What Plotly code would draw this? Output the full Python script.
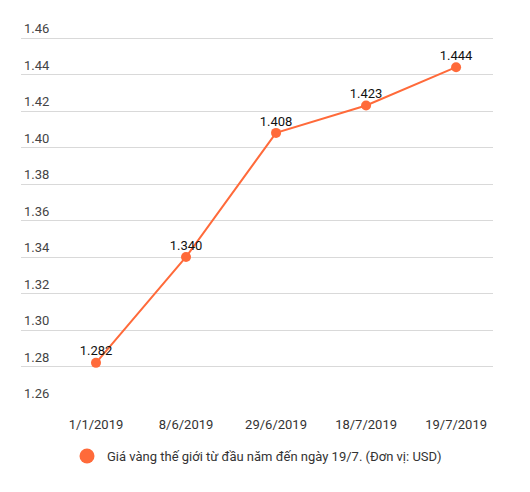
import plotly.graph_objects as go

# Giá vàng thế giới (nghìn USD/ounce)
dates = ["1/1/2019", "8/6/2019", "29/6/2019", "18/7/2019", "19/7/2019"]
prices = [1.282, 1.340, 1.408, 1.423, 1.444]
y_ticks = [1.26, 1.28, 1.30, 1.32, 1.34, 1.36, 1.38, 1.40, 1.42, 1.44, 1.46]
series_name = "Giá vàng thế giới từ đầu năm đến ngày 19/7. (Đơn vị: USD)"

orange = "#ff6a3a"
xs = list(range(len(dates)))

fig = go.Figure()
fig.add_trace(
    go.Scatter(
        x=xs,
        y=prices,
        mode="lines+markers",
        line=dict(color=orange, width=2),
        marker=dict(color=orange, size=10),
        showlegend=False,
        cliponaxis=False,
    )
)
# nhãn giá trị, chấm ẩn nhỏ hơn để nhãn sát chấm hơn
fig.add_trace(
    go.Scatter(
        x=xs,
        y=prices,
        mode="markers+text",
        marker=dict(size=5, opacity=0),
        text=[f"{v:.3f}" for v in prices],
        textposition="top center",
        textfont=dict(family="Roboto", size=13, color="#111"),
        showlegend=False,
        cliponaxis=False,
        hoverinfo="skip",
    )
)
# chỉ để vẽ chấm to hơn trong chú thích
fig.add_trace(
    go.Scatter(
        x=[None], y=[None], mode="markers",
        marker=dict(color=orange, size=15),
        name=series_name,
    )
)

plot_h = 392  # 365px cho 1.26-1.46, thêm chỗ trên cho nhãn 1.46

# trang html có lề body 8px, nên trừ bớt ở đây
fig.update_layout(
    width=522,
    height=484,
    margin=dict(l=13, r=37, t=30 - (plot_h - 365), b=89),
    paper_bgcolor="white",
    plot_bgcolor="white",
    font=dict(family="Roboto", size=13, color="#444"),
    xaxis=dict(
        range=[-0.833, 4.41],
        tickvals=xs,
        ticktext=dates,
        showgrid=False,
        zeroline=False,
        showline=False,
        automargin=False,
        tickfont=dict(color="#333", size=13),
        ticks="",
        ticklabelstandoff=12,
    ),
    yaxis=dict(
        range=[1.26, 1.26 + plot_h / 1825],
        tickvals=y_ticks,
        tickformat=".2f",
        ticklabelposition="inside top",
        gridcolor="#d9d9d9",
        gridwidth=1,
        zeroline=False,
        showline=False,
        automargin=False,
        tickfont=dict(color="#444", size=13),
    ),
    legend=dict(
        orientation="h",
        x=0.5,
        xanchor="center",
        y=-53 / plot_h,
        yanchor="middle",
        font=dict(size=13, color="#333"),
    ),
)

fig.write_html("out.html")
